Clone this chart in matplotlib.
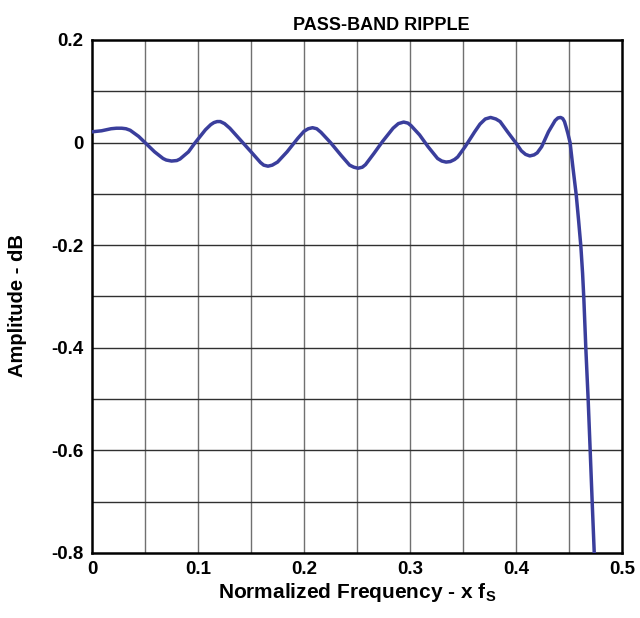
import numpy as np
import matplotlib
matplotlib.use("Agg")
import matplotlib.pyplot as plt

# courbe (fréquence normalisée, amplitude en dB)
freq = [0.000, 0.009, 0.018, 0.023, 0.028, 0.032, 0.036, 0.044, 0.050, 0.059,
        0.067, 0.070, 0.075, 0.080, 0.083, 0.091, 0.097, 0.107, 0.112, 0.115,
        0.118, 0.121, 0.125, 0.130, 0.140, 0.150, 0.159, 0.162, 0.166, 0.170,
        0.175, 0.184, 0.194, 0.200, 0.204, 0.208, 0.212, 0.216, 0.225, 0.235,
        0.243, 0.247, 0.251, 0.255, 0.258, 0.266, 0.274, 0.284, 0.289, 0.294,
        0.298, 0.301, 0.309, 0.317, 0.326, 0.330, 0.334, 0.338, 0.342, 0.345,
        0.352, 0.361, 0.366, 0.371, 0.376, 0.381, 0.385, 0.392, 0.400, 0.405,
        0.409, 0.413, 0.417, 0.420, 0.4242, 0.4306, 0.4369, 0.4395, 0.442,
        0.444, 0.4457, 0.447, 0.4489, 0.451, 0.4536, 0.4568, 0.459, 0.4612,
        0.4628, 0.464, 0.4659, 0.4681, 0.4700, 0.4719, 0.4738]
ampl = [0.021, 0.023, 0.027, 0.028, 0.028, 0.027, 0.024, 0.012, 0.000, -0.018,
        -0.031, -0.034, -0.036, -0.035, -0.032, -0.018, -0.001, 0.025, 0.035, 0.039,
        0.041, 0.041, 0.037, 0.028, 0.005, -0.018, -0.039, -0.044, -0.046, -0.044,
        -0.038, -0.018, 0.008, 0.022, 0.027, 0.029, 0.027, 0.020, 0.000, -0.025,
        -0.044, -0.048, -0.050, -0.048, -0.043, -0.021, 0.002, 0.028, 0.037, 0.040,
        0.038, 0.033, 0.015, -0.008, -0.031, -0.036, -0.038, -0.037, -0.033, -0.028,
        -0.008, 0.021, 0.036, 0.046, 0.049, 0.046, 0.041, 0.021, -0.001, -0.016,
        -0.023, -0.026, -0.024, -0.020, -0.008, 0.021, 0.043, 0.048, 0.049,
        0.047, 0.041, 0.032, 0.018, 0.000, -0.047, -0.102, -0.151, -0.203,
        -0.255, -0.305, -0.403, -0.503, -0.602, -0.703, -0.800]

xticks = [0, 0.1, 0.2, 0.3, 0.4, 0.5]
xtick_labels = ['0', '0.1', '0.2', '0.3', '0.4', '0.5']
yticks = [0.2, 0, -0.2, -0.4, -0.6, -0.8]
ytick_labels = ['0.2', '0', '-0.2', '-0.4', '-0.6', '-0.8']

plt.rcParams['font.family'] = ['Liberation Sans', 'DejaVu Sans']
plt.rcParams['font.weight'] = 'bold'

fig = plt.figure(figsize=(6.4, 6.18), dpi=100)
ax = fig.add_axes([0.1438, 0.1052, 0.8281, 0.8301])

# grille
for gx in np.arange(0.05, 0.5, 0.05):
    ax.axvline(gx, color='#707070', lw=1.0, zorder=1)
for gy in np.arange(-0.7, 0.2, 0.1):
    ax.axhline(gy, color='#303030', lw=1.0, zorder=1)

ax.plot(freq, ampl, color='#3a3e9c', lw=2.5, zorder=3,
        solid_joinstyle='round', solid_capstyle='round')

ax.set_xlim(0, 0.5)
ax.set_ylim(-0.8, 0.2)
ax.set_xticks(xticks)
ax.set_xticklabels(xtick_labels)
ax.set_yticks(yticks)
ax.set_yticklabels(ytick_labels)
ax.tick_params(length=0, labelsize=13.5, pad=6)
for s in ax.spines.values():
    s.set_linewidth(1.8)
    s.set_color('black')

ax.set_title('PASS-BAND RIPPLE', fontsize=13, fontweight='bold', pad=7, x=0.545)
ax.set_xlabel('Normalized Frequency - x f$_\\mathregular{S}$', fontsize=15,
              fontweight='bold', labelpad=2)
ax.set_ylabel('Amplitude - dB', fontsize=14.5, fontweight='bold')
ax.yaxis.set_label_coords(-0.122, 0.482)

fig.savefig('out.png', dpi=100)
